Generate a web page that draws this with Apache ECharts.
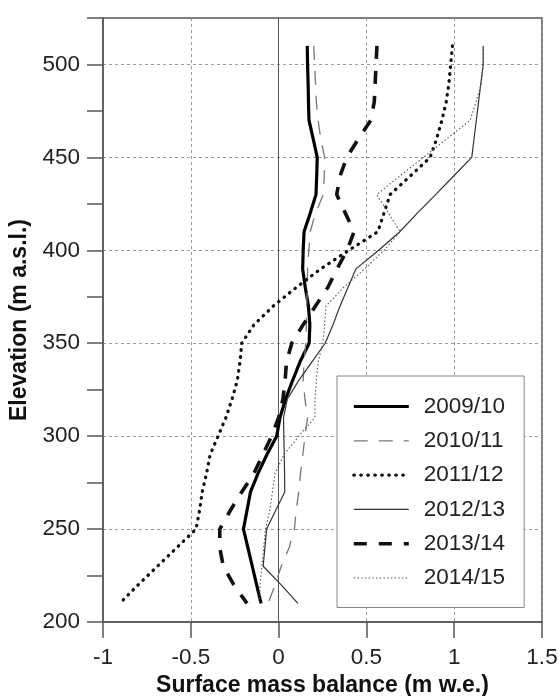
<!DOCTYPE html>
<html>
<head>
<meta charset="utf-8">
<script src="https://cdn.jsdelivr.net/npm/echarts@6/dist/echarts.min.js"></script>
<style>
  html, body { margin: 0; padding: 0; background: #fff; }
  #chart { width: 558px; height: 696px; }
</style>
</head>
<body>
<div id="chart"></div>
<script>
// elevation levels (m a.s.l.), top to bottom
const elevation = [510, 500, 490, 480, 470, 460, 450, 440, 430, 420, 410, 400, 390, 380, 370, 360,
  350, 340, 330, 320, 310, 300, 290, 280, 270, 260, 250, 240, 230, 220, 210];

// surface mass balance (m w.e.) per year, same order as elevation
const smb0910 = [0.163, 0.165, 0.168, 0.17, 0.173, 0.197, 0.22, 0.217, 0.213, 0.18, 0.145, 0.14, 0.137, 0.152, 0.17, 0.178,
  0.174, 0.122, 0.08, 0.04, 0.008, -0.011, -0.067, -0.117, -0.16, -0.18, -0.2, -0.175, -0.15, -0.125, -0.1];
const smb1011 = [0.2, 0.205, 0.21, 0.215, 0.225, 0.24, 0.262, 0.26, 0.255, 0.21, 0.18, 0.172, 0.165, 0.163, 0.16, 0.158,
  0.155, 0.145, 0.14, 0.15, 0.165, 0.15, 0.138, 0.125, 0.115, 0.1, 0.09, 0.06, 0.015, -0.02, -0.06];
const smb1112 = [0.99, 0.98, 0.97, 0.955, 0.93, 0.9, 0.863, 0.75, 0.635, 0.6, 0.565, 0.4, 0.24, 0.1, -0.03, -0.14,
  -0.21, -0.22, -0.235, -0.265, -0.3, -0.345, -0.39, -0.41, -0.435, -0.45, -0.47, -0.58, -0.69, -0.8, -0.905];
const smb1213 = [1.165, 1.165, 1.152, 1.139, 1.126, 1.113, 1.1, 0.997, 0.894, 0.79, 0.69, 0.57, 0.44, 0.395, 0.35, 0.31,
  0.265, 0.19, 0.115, 0.05, 0.028, 0.03, 0.032, 0.034, 0.035, -0.017, -0.068, -0.078, -0.088, 0.015, 0.11];
const smb1314 = [0.56, 0.555, 0.55, 0.545, 0.525, 0.455, 0.388, 0.35, 0.331, 0.38, 0.43, 0.39, 0.333, 0.28, 0.21, 0.14,
  0.075, 0.045, 0.037, 0.025, 0.0, -0.04, -0.09, -0.14, -0.21, -0.275, -0.335, -0.335, -0.315, -0.255, -0.18];
const smb1415 = [1.167, 1.165, 1.155, 1.125, 1.091, 0.958, 0.825, 0.69, 0.559, 0.625, 0.692, 0.6, 0.49, 0.37, 0.27, 0.262,
  0.252, 0.225, 0.215, 0.207, 0.207, 0.115, 0.03, -0.02, -0.035, -0.05, -0.075, -0.085, -0.095, -0.105, -0.11];

const years = ['2009/10', '2010/11', '2011/12', '2012/13', '2013/14', '2014/15'];
const values = [smb0910, smb1011, smb1112, smb1213, smb1314, smb1415];

const styles = [
  { color: '#000', width: 3.2, type: 'solid' },
  { color: '#777', width: 1.3, type: [14, 11] },
  { color: '#111', width: 3.3, type: [0.5, 6.5], cap: 'round' },
  { color: '#333', width: 1.2, type: 'solid' },
  { color: '#111', width: 3.6, type: [13, 12] },
  { color: '#555', width: 1.1, type: [1.5, 2.2] }
];

const FONT = '"Liberation Sans", Arial, sans-serif';
const AXIS = '#555';

const series = years.map((name, i) => {
  const s = {
    name: name,
    type: 'line',
    symbol: 'none',
    data: values[i].map((v, k) => [v, elevation[k]]),
    lineStyle: styles[i],
    itemStyle: { color: styles[i].color },
    z: 3
  };
  if (i === 0) {
    s.markLine = {
      silent: true,
      symbol: ['none', 'none'],
      label: { show: false },
      lineStyle: { color: '#555', type: 'solid', width: 1 },
      data: [{ xAxis: 0 }],
      z: 1
    };
  }
  return s;
});

const chart = echarts.init(document.getElementById('chart'));
chart.setOption({
  animation: false,
  backgroundColor: '#fff',
  textStyle: { fontFamily: FONT },
  grid: {
    left: 103, right: 16, top: 18, bottom: 74,
    outerBoundsMode: 'none',
    containLabel: false,
    show: true, borderColor: AXIS, borderWidth: 1.5, backgroundColor: 'transparent'
  },
  legend: {
    orient: 'vertical',
    left: 337,
    top: 376,
    padding: [19, 19, 18, 15],
    itemWidth: 55,
    itemHeight: 14,
    itemGap: 11.3,
    borderColor: '#888',
    borderWidth: 1,
    backgroundColor: '#fff',
    textStyle: { fontFamily: FONT, fontSize: 22.5, color: '#222', lineHeight: 22, padding: [0, 0, 0, 10] },
    data: years.map((name, i) => ({
      name: name,
      itemStyle: { color: 'rgba(0,0,0,0)', borderWidth: 0, opacity: 0 },
      lineStyle: { width: styles[i].width, type: styles[i].type, color: styles[i].color, cap: styles[i].cap || 'butt' }
    }))
  },
  xAxis: {
    type: 'value',
    min: -1,
    max: 1.5,
    interval: 0.5,
    name: 'Surface mass balance (m w.e.)',
    nameLocation: 'middle',
    nameGap: 50,
    nameTextStyle: { fontFamily: FONT, fontSize: 23, fontWeight: 'bold', color: '#111' },
    axisLine: { show: true, onZero: false, lineStyle: { color: AXIS, width: 1.5 } },
    axisTick: { show: true, length: 16, lineStyle: { color: AXIS, width: 1.5 } },
    axisLabel: { fontFamily: FONT, fontSize: 22.5, color: '#222', margin: 24 },
    splitLine: { show: true, lineStyle: { color: '#999', type: [3, 3], width: 1 } }
  },
  yAxis: {
    type: 'value',
    min: 200,
    max: 525,
    interval: 25,
    name: 'Elevation (m a.s.l.)',
    nameLocation: 'middle',
    nameGap: 63,
    nameTextStyle: { fontFamily: FONT, fontSize: 23, fontWeight: 'bold', color: '#111' },
    axisLine: { show: true, onZero: false, lineStyle: { color: AXIS, width: 1.5 } },
    axisTick: { show: true, length: 16, lineStyle: { color: AXIS, width: 1.5 } },
    axisLabel: {
      fontFamily: FONT, fontSize: 22.5, color: '#222', margin: 23,
      formatter: v => (v % 50 === 0 ? String(v) : '')
    },
    splitLine: { show: true, lineStyle: { color: ['#999', 'rgba(0,0,0,0)'], type: [3, 3], width: 1 } }
  },
  series: series
});
</script>
</body>
</html>
